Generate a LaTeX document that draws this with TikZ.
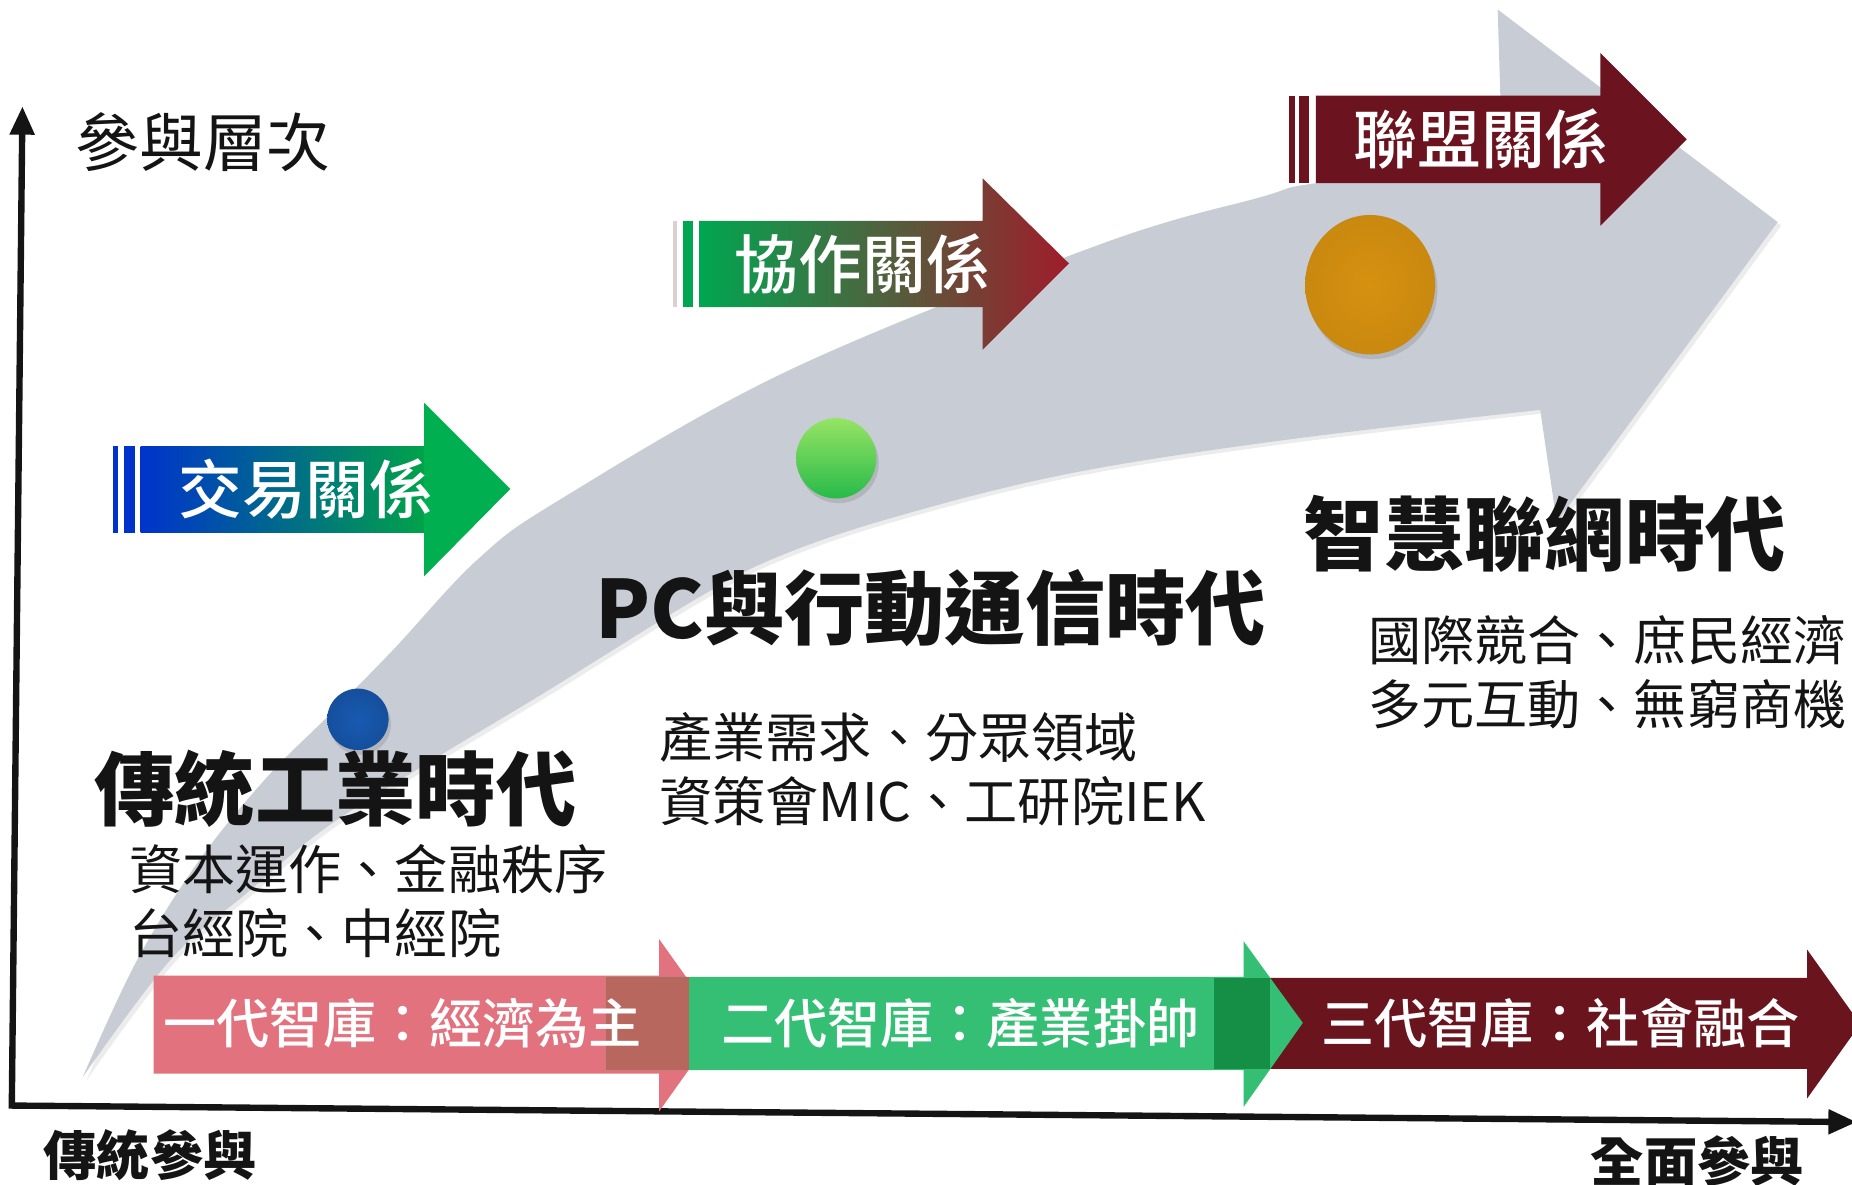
\documentclass[tikz,border=0pt]{standalone}
\usepackage{fontspec}
\setmainfont{Noto Sans CJK TC}[BoldFont={Noto Sans CJK TC Medium}]
\newfontfamily\heavyfont{Noto Sans CJK TC}
\usetikzlibrary{arrows.meta,shadows}

\definecolor{bandgray}{RGB}{200,204,213}
\definecolor{tradeblue}{RGB}{0,51,204}
\definecolor{tradegreen}{RGB}{0,176,80}
\definecolor{coopgreen}{RGB}{0,166,81}
\definecolor{coopred}{RGB}{160,28,42}
\definecolor{coopbar}{RGB}{217,208,208}
\definecolor{allyred}{RGB}{107,19,30}
\definecolor{stagepink}{RGB}{226,115,126}
\definecolor{stagegreen}{RGB}{52,191,117}
\definecolor{stagemaroon}{RGB}{106,20,30}
\definecolor{pinkover}{RGB}{184,103,95}
\definecolor{greenover}{RGB}{20,143,69}
\definecolor{ballblue}{RGB}{24,90,178}
\definecolor{ballgreenhi}{RGB}{150,228,100}
\definecolor{ballgreenlo}{RGB}{40,186,74}
\definecolor{ballorange}{RGB}{214,145,16}

\begin{document}
\begin{tikzpicture}[x=0.5pt,y=0.5pt,yscale=-1,xscale=1,
    axis/.style={line width=2.7pt, draw=black!92, line join=miter,
        {Triangle[length=12pt,width=10pt]}-{Triangle[length=12pt,width=10pt]}},
    relation/.style={text=white, font=\bfseries\fontsize{27}{27}\selectfont, inner sep=0pt},
    era/.style={text=black!92, font=\heavyfont\bfseries\fontsize{34}{34}\selectfont, inner sep=0pt},
    note/.style={text=black!92, font=\fontsize{22.5}{27}\selectfont, align=left, anchor=west, inner sep=0pt},
    stage/.style={text=white, font=\bfseries\fontsize{22.5}{22.5}\selectfont, inner sep=0pt},
    axislabel/.style={text=black!92, inner sep=0pt}]

            \useasboundingbox (0,0) rectangle (1568,1003);

            % Growth Arrow
            \fill[bandgray, drop shadow={opacity=0.15, shadow xshift=1.5pt, shadow yshift=-1.5pt}]
                plot[smooth, tension=0.6] coordinates {(70,912) (116,813) (169,728) (226,658) (277,607) (333,550) (404,474) (474,423) (669,313) (931,207) (1067,167) (1115,155) (1272,138)}
                -- (1268,8) -- (1505,188) -- (1318,442) -- (1304,347)
                -- plot[smooth, tension=0.6] coordinates {(1304,347) (1084,373) (905,401) (760,437) (662,470) (593,505) (460,587) (367,643) (277,700) (209,756) (144,813) (70,912)}
                -- cycle;

            % Axes
            \coordinate (ytip)   at (19,90);
            \coordinate (origin) at (10,936);
            \coordinate (xtip)   at (1572,950);
            \draw[axis] (ytip) -- (origin) -- (xtip);

            % Stage Arrows
            \fill[stagemaroon] (1028,828) -- (1530,828) -- (1530,804) -- (1575,867) -- (1530,930) -- (1530,905) -- (1028,905) -- cycle;
            \fill[stagepink]   (130,826) -- (558,826) -- (558,795) -- (610,868) -- (558,941) -- (558,909) -- (130,909) -- cycle;
            \fill[stagegreen]  (513,827) -- (1053,827) -- (1053,797) -- (1103,866) -- (1053,937) -- (1053,906) -- (513,906) -- cycle;
            \fill[pinkover]    (513,827) rectangle (583,906);
            \fill[greenover]   (1028,828) rectangle (1075,905);

            % Relation Arrows
            \fill[tradeblue] (96,378) rectangle (100,451);
            \fill[tradeblue] (105,378) rectangle (114,451);
            \shade[left color=tradeblue, right color=tradegreen!92!black] (119,378) rectangle (359,451);
            \fill[tradegreen] (359,341) -- (432,414) -- (359,488) -- cycle;

            \fill[coopbar] (570,187) rectangle (573,260);
            \fill[coopgreen] (578,187) rectangle (587,260);
            \shade[left color=coopgreen, right color=coopred]
                (592,187) -- (832,187) -- (832,151) -- (905,223) -- (832,296) -- (832,260) -- (592,260) -- cycle;

            \fill[allyred] (1091,81) rectangle (1096,155);
            \fill[allyred] (1100,81) rectangle (1108,155);
            \fill[allyred] (1114,81) -- (1355,81) -- (1355,45) -- (1428,118) -- (1355,191) -- (1355,155) -- (1114,155) -- cycle;

            % Milestones
            \shade[inner color=ballblue, outer color=ballblue!88!black,
                drop shadow={opacity=0.3, shadow xshift=1pt, shadow yshift=-2pt}] (303,609) circle (26);
            \shade[top color=ballgreenhi, bottom color=ballgreenlo,
                drop shadow={opacity=0.3, shadow xshift=1pt, shadow yshift=-2pt}] (708,388) circle (34);
            \shade[inner color=ballorange, outer color=ballorange!94!black,
                drop shadow={opacity=0.3, shadow xshift=1pt, shadow yshift=-2pt}] (1160,241) ellipse (55 and 59);

            % Labels
            \node[relation] (tradeLbl) at (259,414)  {交易關係};
            \node[relation] (coopLbl)  at (730,223)  {協作關係};
            \node[relation] (allyLbl)  at (1254,118) {聯盟關係};

            \node[era] (eraOld)  at (284,668)  {傳統工業時代};
            \node[era] (eraPC)   at (788,515)  {PC與行動通信時代};
            \node[era] (eraIoT)  at (1308,452) {智慧聯網時代};

            \node[note] (noteOld) at (109,763)  {資本運作、金融秩序\\台經院、中經院};
            \node[note] (notePC)  at (558,651)  {產業需求、分眾領域\\資策會MIC、工研院IEK};
            \node[note] (noteIoT) at (1158,569) {國際競合、庶民經濟\\多元互動、無窮商機};

            \node[stage] (stageOne)   at (341,866)  {一代智庫：經濟為主};
            \node[stage] (stageTwo)   at (813,866)  {二代智庫：產業掛帥};
            \node[stage] (stageThree) at (1321,866) {三代智庫：社會融合};

            \node[axislabel, font=\fontsize{27}{27}\selectfont] (levelLbl) at (172,120) {參與層次};
            \node[axislabel, font=\heavyfont\bfseries\fontsize{22.5}{22.5}\selectfont] (startLbl) at (127,978) {傳統參與};
            \node[axislabel, font=\heavyfont\bfseries\fontsize{22.5}{22.5}\selectfont] (endLbl) at (1437,983) {全面參與};

\end{tikzpicture}
\end{document}
